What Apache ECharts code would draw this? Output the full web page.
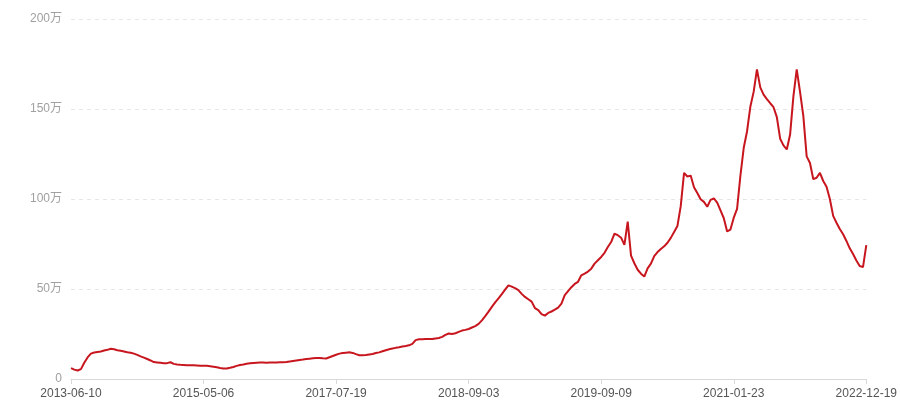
<!DOCTYPE html>
<html>
<head>
<meta charset="utf-8">
<script src="https://cdn.jsdelivr.net/npm/echarts@6/dist/echarts.min.js"></script>
<style>
html,body{margin:0;padding:0;background:#fff;overflow:hidden;}
#chart{width:900px;height:400px;}
</style>
</head>
<body>
<div id="chart"></div>
<script>
// Categories (dates)
const dates = [
'2013-06-10','2013-06-27','2013-07-14','2013-07-31','2013-08-17','2013-09-03','2013-09-20','2013-10-07','2013-10-24','2013-11-10',
'2013-11-27','2013-12-14','2013-12-31','2014-01-17','2014-02-03','2014-02-20','2014-03-09','2014-03-26','2014-04-12','2014-04-29',
'2014-05-16','2014-06-02','2014-06-19','2014-07-06','2014-07-23','2014-08-09','2014-08-26','2014-09-12','2014-09-29','2014-10-16',
'2014-11-02','2014-11-19','2014-12-06','2014-12-23','2015-01-09','2015-01-26','2015-02-12','2015-03-01','2015-03-18','2015-04-04',
'2015-05-06','2015-05-26','2015-06-15','2015-07-05','2015-07-25','2015-08-14','2015-09-03','2015-09-23','2015-10-13','2015-11-02',
'2015-11-22','2015-12-12','2016-01-01','2016-01-21','2016-02-10','2016-03-01','2016-03-21','2016-04-10','2016-04-30','2016-05-20',
'2016-06-09','2016-06-29','2016-07-19','2016-08-08','2016-08-28','2016-09-17','2016-10-07','2016-10-27','2016-11-16','2016-12-06',
'2016-12-26','2017-01-15','2017-02-04','2017-02-24','2017-03-16','2017-04-05','2017-04-25','2017-05-15','2017-06-04','2017-06-24',
'2017-07-19','2017-07-29','2017-08-08','2017-08-18','2017-08-28','2017-09-07','2017-09-17','2017-09-27','2017-10-07','2017-10-17',
'2017-10-27','2017-11-06','2017-11-16','2017-11-26','2017-12-06','2017-12-16','2017-12-26','2018-01-05','2018-01-15','2018-01-25',
'2018-02-04','2018-02-14','2018-02-24','2018-03-06','2018-03-16','2018-03-26','2018-04-05','2018-04-15','2018-04-25','2018-05-05',
'2018-05-15','2018-05-25','2018-06-04','2018-06-14','2018-06-24','2018-07-04','2018-07-14','2018-07-24','2018-08-03','2018-08-13',
'2018-09-03','2018-09-12','2018-09-21','2018-09-30','2018-10-09','2018-10-18','2018-10-27','2018-11-05','2018-11-14','2018-11-23',
'2018-12-02','2018-12-11','2018-12-20','2018-12-29','2019-01-07','2019-01-16','2019-01-25','2019-02-03','2019-02-12','2019-02-21',
'2019-03-02','2019-03-11','2019-03-20','2019-03-29','2019-04-07','2019-04-16','2019-04-25','2019-05-04','2019-05-13','2019-05-22',
'2019-05-31','2019-06-09','2019-06-18','2019-06-27','2019-07-06','2019-07-15','2019-07-24','2019-08-02','2019-08-11','2019-08-20',
'2019-09-09','2019-09-21','2019-10-03','2019-10-15','2019-10-27','2019-11-08','2019-11-20','2019-12-02','2019-12-14','2019-12-26',
'2020-01-07','2020-01-19','2020-01-31','2020-02-12','2020-02-24','2020-03-07','2020-03-19','2020-03-31','2020-04-12','2020-04-24',
'2020-05-06','2020-05-18','2020-05-30','2020-06-11','2020-06-23','2020-07-05','2020-07-17','2020-07-29','2020-08-10','2020-08-22',
'2020-09-03','2020-09-15','2020-09-27','2020-10-09','2020-10-21','2020-11-02','2020-11-14','2020-11-26','2020-12-08','2020-12-20',
'2021-01-23','2021-02-09','2021-02-26','2021-03-15','2021-04-01','2021-04-18','2021-05-05','2021-05-22','2021-06-08','2021-06-25',
'2021-07-12','2021-07-29','2021-08-15','2021-09-01','2021-09-18','2021-10-05','2021-10-22','2021-11-08','2021-11-25','2021-12-12',
'2021-12-29','2022-01-15','2022-02-01','2022-02-18','2022-03-07','2022-03-24','2022-04-10','2022-04-27','2022-05-14','2022-05-31',
'2022-06-17','2022-07-04','2022-07-21','2022-08-07','2022-08-24','2022-09-10','2022-09-27','2022-10-14','2022-10-31','2022-11-17',
'2022-12-19'
];

// Series values (unit: 万)
const values = [
6.0,5.2,4.7,5.5,9.0,12.0,14.1,14.7,15.0,15.3,15.8,16.2,16.8,16.5,16.0,15.7,15.3,14.9,14.6,14.1,
13.4,12.6,11.9,11.1,10.3,9.4,9.2,9.0,8.8,8.8,9.3,8.4,8.1,7.9,7.8,7.7,7.6,7.6,7.5,7.4,
7.4,7.3,7.1,6.8,6.5,6.1,5.8,5.8,6.2,6.7,7.3,7.8,8.1,8.5,8.7,8.9,9.0,9.1,9.1,9.0,
9.1,9.1,9.2,9.3,9.3,9.4,9.7,10.0,10.3,10.6,10.8,11.1,11.3,11.5,11.6,11.7,11.5,11.4,12.1,12.8,
13.5,14.1,14.4,14.6,14.8,14.5,13.8,13.2,13.2,13.3,13.6,13.9,14.4,14.8,15.4,16.0,16.5,16.9,17.3,17.6,
18.0,18.3,18.7,19.5,21.6,22.1,22.1,22.2,22.2,22.2,22.5,22.8,23.4,24.5,25.3,25.0,25.4,26.2,26.9,27.3,
27.8,28.6,29.4,30.6,32.6,34.9,37.4,40.1,42.6,44.8,47.2,49.6,52.0,51.3,50.5,49.4,47.3,45.6,44.3,43.0,
39.4,38.3,36.0,35.2,36.7,37.5,38.5,39.7,41.9,46.6,48.8,51.0,52.8,54.0,57.6,58.6,59.7,61.3,64.1,66.0,
67.8,70.1,73.3,76.1,80.7,79.9,78.5,74.5,87.4,68.5,64.3,60.7,58.5,56.9,61.5,64.1,68.3,70.5,72.2,73.7,
75.7,78.4,81.7,85.0,96.0,114.5,112.5,113.0,106.5,103.3,99.9,98.4,95.7,99.5,100.3,98.0,93.7,89.3,82.0,83.0,
89.6,94.5,112.8,128.3,137.5,151.2,159.5,172.0,162.0,158.0,155.5,153.2,151.0,145.5,133.5,129.8,127.5,135.8,157.0,172.0,
159.5,146.0,123.7,120.0,111.0,111.8,114.5,110.0,106.8,100.0,90.6,86.8,83.3,80.4,76.7,72.6,69.4,65.8,62.8,62.2,
74.4
];

// Y-axis tick values (unit: 万)
const yTicks = [0, 50, 100, 150, 200];

const FONT = "'Liberation Sans', 'Noto Sans CJK SC', sans-serif";
const chart = echarts.init(document.getElementById('chart'), null, {renderer: 'canvas'});
chart.setOption({
  animation: false,
  backgroundColor: '#ffffff',
  grid: {left: 71, right: 29, top: 19, bottom: 21, containLabel: false},
  tooltip: {trigger: 'axis'},
  xAxis: {
    type: 'category',
    data: dates,
    boundaryGap: false,
    axisLine: {lineStyle: {color: '#d9d9d9', width: 1}},
    axisTick: {show: true, interval: 39, length: 5, lineStyle: {color: '#d9d9d9'}},
    axisLabel: {interval: 39, color: '#555555', fontSize: 12, fontFamily: FONT, margin: 9}
  },
  yAxis: {
    type: 'value',
    min: yTicks[0],
    max: yTicks[yTicks.length - 1],
    interval: yTicks[1] - yTicks[0],
    axisLine: {show: false},
    axisTick: {show: false},
    axisLabel: {
      color: '#a0a0a0', fontSize: 12, fontFamily: FONT, margin: 9,
      formatter: function (v) { return v === 0 ? '0' : v + '万'; }
    },
    splitLine: {show: true, lineStyle: {color: '#e6e6e6', type: [4, 4], width: 1}}
  },
  series: [{
    type: 'line',
    data: values,
    showSymbol: false,
    symbol: 'none',
    smooth: false,
    lineStyle: {color: '#c8161e', width: 2},
    itemStyle: {color: '#c8161e'}
  }]
});
</script>
</body>
</html>
